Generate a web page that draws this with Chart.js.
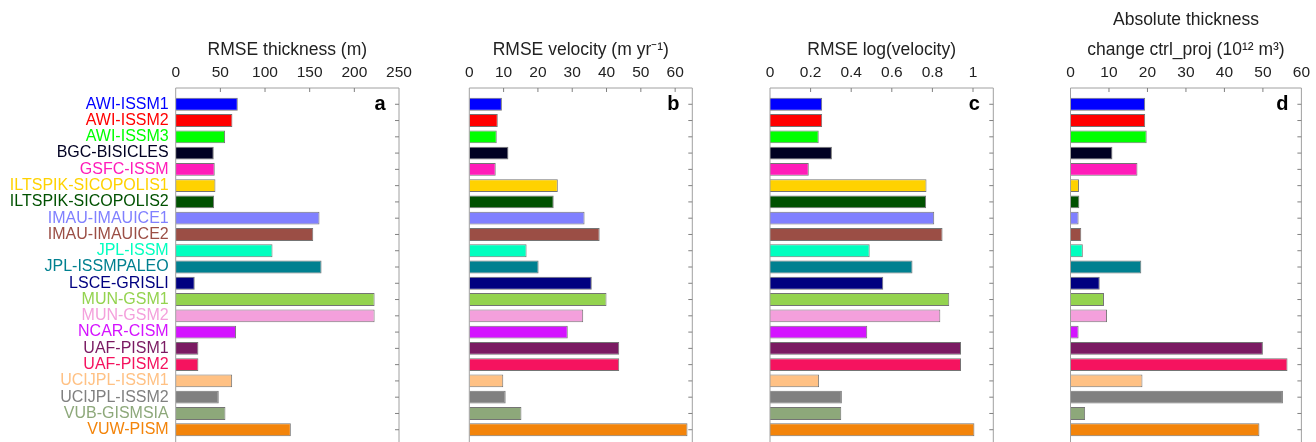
<!DOCTYPE html>
<html><head><meta charset="utf-8">
<script src="https://cdn.jsdelivr.net/npm/chart.js@4"></script>
<style>
html,body{margin:0;padding:0;width:1316px;height:442px;overflow:hidden;background:#fff}
canvas{position:absolute;top:0}
</style></head><body>
<canvas id="ca" width="422" height="448" style="left:0px;width:422px;height:448px"></canvas>
<canvas id="cb" width="266" height="448" style="left:440px;width:266px;height:448px"></canvas>
<canvas id="cc" width="266" height="448" style="left:740px;width:266px;height:448px"></canvas>
<canvas id="cd" width="276" height="448" style="left:1040px;width:276px;height:448px"></canvas>
<script>
const categories = ['AWI-ISSM1','AWI-ISSM2','AWI-ISSM3','BGC-BISICLES','GSFC-ISSM','ILTSPIK-SICOPOLIS1','ILTSPIK-SICOPOLIS2','IMAU-IMAUICE1','IMAU-IMAUICE2','JPL-ISSM','JPL-ISSMPALEO','LSCE-GRISLI','MUN-GSM1','MUN-GSM2','NCAR-CISM','UAF-PISM1','UAF-PISM2','UCIJPL-ISSM1','UCIJPL-ISSM2','VUB-GISMSIA','VUW-PISM'];
const modelColors = ['#0000ff','#ff0000','#00ff00','#000022','#ff1cb9','#ffd200','#005100','#8080ff','#9b4e45','#00ffbf','#008090','#000080','#94d34f','#f4a0dc','#d413ff','#7a1a62','#f5135f','#ffc184','#808080','#8da87a','#f3840a'];

const rmseThickness = [69.5,63.5,55.3,42.6,43.7,44.5,43.0,161,154,108.4,163.3,21.3,222.7,222.7,67.6,25.4,25.4,63.2,48.2,55.7,128.9];
const rmseVelocity = [9.5,8.3,8.0,11.4,7.7,25.8,24.6,33.6,38.0,16.7,20.2,35.7,40.0,33.2,28.7,43.7,43.7,9.9,10.6,15.2,63.6];
const rmseLogVelocity = [0.257,0.257,0.240,0.305,0.191,0.771,0.769,0.809,0.850,0.491,0.702,0.558,0.883,0.839,0.479,0.941,0.941,0.242,0.354,0.351,1.007];
const absThicknessChange = [19.4,19.4,19.8,10.9,17.4,2.2,2.3,2.1,2.8,3.2,18.4,7.6,8.7,9.5,2.1,50.0,56.4,18.7,55.2,3.8,49.1];

const ticksThickness = ['0','50','100','150','200','250'];
const ticksVelocity = ['0','10','20','30','40','50','60'];
const ticksLogVelocity = ['0','0.2','0.4','0.6','0.8','1'];
const ticksChange = ['0','10','20','30','40','50','60'];

const FONT = "'Liberation Sans', Arial, Helvetica, sans-serif";
const TXT = '#222';

const framePlugin = {
  id: 'frame',
  afterDatasetsDraw(chart, args, o) {
    const ctx = chart.ctx;
    const {left, right, top, bottom} = chart.chartArea;
    const x = chart.scales.x, y = chart.scales.y;
    ctx.save();
    ctx.strokeStyle = '#a0a0a0';
    ctx.lineWidth = 1;
    ctx.beginPath();
    ctx.moveTo(left, bottom); ctx.lineTo(left, top); ctx.lineTo(right, top); ctx.lineTo(right, bottom);
    ctx.stroke();
    ctx.strokeStyle = '#808080';
    ctx.beginPath();
    x.ticks.forEach(t => {
      const px = x.getPixelForValue(t.value);
      if (px > left + 1 && px < right - 1) {
        ctx.moveTo(px, top); ctx.lineTo(px, top + 4);
        ctx.moveTo(px, bottom); ctx.lineTo(px, bottom - 4);
      }
    });
    categories.forEach((c, i) => {
      const py = y.getPixelForValue(i + 1);
      ctx.moveTo(right, py); ctx.lineTo(right - 4, py);
    });
    ctx.stroke();
    ctx.fillStyle = '#000';
    ctx.font = 'bold 20px ' + FONT;
    ctx.textAlign = 'center';
    ctx.textBaseline = 'middle';
    ctx.fillText(o.letter, right - 19, y.getPixelForValue(1));
    ctx.restore();
  }
};

function makePanel(id, values, tickLabels, xMax, title, titlePadTop, letter, padding, showLabels) {
  new Chart(document.getElementById(id), {
    type: 'bar',
    data: {
      datasets: [{
        data: values.map((v, i) => ({x: v, y: i + 1})),
        backgroundColor: modelColors,
        borderColor: 'rgba(70,70,70,0.75)',
        borderWidth: 1,
        barPercentage: 0.79,
        categoryPercentage: 1
      }]
    },
    options: {
      indexAxis: 'y',
      responsive: false,
      animation: false,
      devicePixelRatio: 1,
      layout: {padding: padding},
      plugins: {legend: {display: false}, tooltip: {enabled: false}, frame: {letter: letter}},
      scales: {
        x: {
          type: 'linear', position: 'top', min: 0, max: xMax, offset: false,
          afterBuildTicks: s => { s.ticks = tickLabels.map(t => ({value: Number(t)})); },
          afterFit: s => { s.height = 88; },
          grid: {display: false, drawTicks: false},
          border: {display: false},
          ticks: {
            autoSkip: false, maxRotation: 0, padding: 6, color: TXT,
            font: {family: FONT, size: 15.5},
            callback: (v) => { const k = tickLabels.find(t => Number(t) === v); return k !== undefined ? k : ''; }
          },
          title: {
            display: true, text: title, color: TXT,
            font: {family: FONT, size: 17.5, lineHeight: Array.isArray(title) ? 1.72 : 1.2},
            padding: {top: titlePadTop, bottom: 0}
          }
        },
        y: {
          type: 'linear', min: 0, max: 22, reverse: true, offset: false,
          display: showLabels,
          afterBuildTicks: s => { s.ticks = categories.map((c, i) => ({value: i + 1})); },
          afterFit: s => { s.width = showLabels ? 175.7 : 0; s.paddingTop = 0; s.paddingBottom = 0; },
          grid: {display: false, drawTicks: false, offset: false},
          border: {display: false},
          ticks: {
            autoSkip: false, padding: 7,
            font: {family: FONT, size: 16},
            color: c => modelColors[c.index],
            callback: v => categories[v - 1]
          }
        }
      }
    },
    plugins: [framePlugin]
  });
}

makePanel('ca', rmseThickness, ticksThickness, 250, 'RMSE thickness (m)', 39.5, 'a', {left: 0, right: 23, top: 0, bottom: 2}, true);
makePanel('cb', rmseVelocity, ticksVelocity, 65, 'RMSE velocity (m yr\u207B\u00B9)', 39.5, 'b', {left: 29.3, right: 13.7, top: 0, bottom: 2}, false);
makePanel('cc', rmseLogVelocity, ticksLogVelocity, 1.1, 'RMSE log(velocity)', 39.5, 'c', {left: 30, right: 12.7, top: 0, bottom: 2}, false);
makePanel('cd', absThicknessChange, ticksChange, 60, ['Absolute thickness', 'change ctrl_proj (10\u00B9\u00B2 m\u00B3)'], 5, 'd', {left: 30.5, right: 12, top: 0, bottom: 2}, false);
</script>
</body></html>
